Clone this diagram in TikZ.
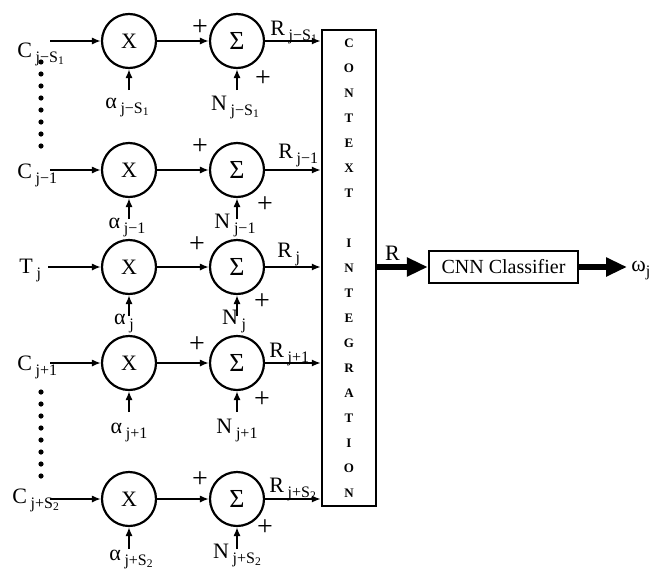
\documentclass[tikz,border=0pt]{standalone}
\usepackage{fontspec}
\setmainfont{Liberation Serif}
\usetikzlibrary{arrows.meta,calc,positioning}
\newcommand\lab[2]{#1\,\raisebox{-0.5ex}{\fontsize{8}{9}\selectfont #2}}
\newcommand\Sone{S\raisebox{-0.35ex}{\fontsize{5.8}{6}\selectfont 1}}
\newcommand\Stwo{S\raisebox{-0.35ex}{\fontsize{5.8}{6}\selectfont 2}}

\begin{document}
\begin{tikzpicture}[x=0.5pt,y=-0.5pt,
every node/.style={font=\fontsize{11}{12}\selectfont,inner sep=1pt},
op/.style={draw,circle,line width=1.1pt,minimum size=27pt,inner sep=0pt},
go/.style={-{Latex[length=4.5pt,width=3.6pt]},line width=0.9pt},
fat/.style={-{Triangle[length=10.5pt,width=9pt]},line width=3pt},
pm/.style={font=\fontsize{14}{14}\selectfont}]
\useasboundingbox (0,0) rectangle (653,568);
% context box and classifier
\node[draw,line width=1.2pt,minimum width=27pt,minimum height=238pt,inner sep=0pt,align=center,
  font=\fontsize{6.5}{12.5}\bfseries\selectfont] (ctx) at (349,268)
  {C\\O\\N\\T\\E\\X\\T\\[12.5pt]I\\N\\T\\E\\G\\R\\A\\T\\I\\O\\N};
\node[draw,line width=1.2pt,minimum width=74.5pt,minimum height=16pt,inner sep=0pt,
  font=\fontsize{10}{12}\selectfont] (cnn) at (503.5,267) {CNN Classifier};
\coordinate (om) at (627,267);
\node[anchor=west,inner sep=0pt] (omega) at (631,271) {ω\raisebox{-0.5ex}{\fontsize{8}{9}\selectfont j}};
% row 1
\node[op] (x1) at (129,41) {X}; \node[op,font=\fontsize{13}{13}\selectfont] (s1) at (237,41) {Σ};
\coordinate (c1) at (50,41); \coordinate (a1) at (129,90); \coordinate (n1) at (237,90);
\node[anchor=base west] (lc1) at (15,57) {\lab{C}{j−\Sone}};
\node[anchor=base] (la1) at (127,108) {\lab{α}{j−\Sone}};
\node[anchor=base] (ln1) at (235,110) {\lab{N}{j−\Sone}};
\node[anchor=base west] (lr1) at (268,35) {\lab{R}{j−\Sone}};
\node[pm] (p1) at (200,28) {+}; \node[pm] (q1) at (263,79) {+};
% row 2
\node[op] (x2) at (129,170) {X}; \node[op,font=\fontsize{13}{13}\selectfont] (s2) at (237,170) {Σ};
\coordinate (c2) at (50,170); \coordinate (a2) at (129,219); \coordinate (n2) at (237,219);
\node[anchor=base west] (lc2) at (15,178) {\lab{C}{j−1}};
\node[anchor=base] (la2) at (127,228) {\lab{α}{j−1}};
\node[anchor=base] (ln2) at (235,228) {\lab{N}{j−1}};
\node[anchor=base west] (lr2) at (276,158) {\lab{R}{j−1}};
\node[pm] (p2) at (200,147) {+}; \node[pm] (q2) at (265,205) {+};
% row 3
\node[op] (x3) at (129,267) {X}; \node[op,font=\fontsize{13}{13}\selectfont] (s3) at (237,267) {Σ};
\coordinate (c3) at (48,267); \coordinate (a3) at (129,316); \coordinate (n3) at (237,316);
\node[anchor=base west] (lc3) at (17,273) {\lab{T}{j}};
\node[anchor=base] (la3) at (124,324) {\lab{α}{j}};
\node[anchor=base] (ln3) at (234,324) {\lab{N}{j}};
\node[anchor=base west] (lr3) at (275,257) {\lab{R}{j}};
\node[pm] (p3) at (197,245) {+}; \node[pm] (q3) at (262,302) {+};
% row 4
\node[op] (x4) at (129,363) {X}; \node[op,font=\fontsize{13}{13}\selectfont] (s4) at (237,363) {Σ};
\coordinate (c4) at (50,363); \coordinate (a4) at (129,412); \coordinate (n4) at (237,412);
\node[anchor=base west] (lc4) at (15,370) {\lab{C}{j+1}};
\node[anchor=base] (la4) at (129,433) {\lab{α}{j+1}};
\node[anchor=base] (ln4) at (237,433) {\lab{N}{j+1}};
\node[anchor=base west] (lr4) at (267,357) {\lab{R}{j+1}};
\node[pm] (p4) at (197,345) {+}; \node[pm] (q4) at (262,400) {+};
% row 5
\node[op] (x5) at (129,499) {X}; \node[op,font=\fontsize{13}{13}\selectfont] (s5) at (237,499) {Σ};
\coordinate (c5) at (50,499); \coordinate (a5) at (129,549); \coordinate (n5) at (237,549);
\node[anchor=base west] (lc5) at (10,503) {\lab{C}{j+\Stwo}};
\node[anchor=base] (la5) at (131,560) {\lab{α}{j+\Stwo}};
\node[anchor=base] (ln5) at (237,558) {\lab{N}{j+\Stwo}};
\node[anchor=base west] (lr5) at (267,492) {\lab{R}{j+\Stwo}};
\node[pm] (p5) at (200,480) {+}; \node[pm] (q5) at (265,528) {+};
% dots
\draw[line width=2.6pt,line cap=round,dash pattern=on 0pt off 6pt] (41,62)--(41,147.5);
\draw[line width=2.6pt,line cap=round,dash pattern=on 0pt off 6pt] (41,392)--(41,476.5);
% connectors
\draw[go] (c1)--(x1); \draw[go] (x1)--(s1); \draw[go] (s1)--(s1-|ctx.west); \draw[go] (a1)--(x1); \draw[go] (n1)--(s1);
\draw[go] (c2)--(x2); \draw[go] (x2)--(s2); \draw[go] (s2)--(s2-|ctx.west); \draw[go] (a2)--(x2); \draw[go] (n2)--(s2);
\draw[go] (c3)--(x3); \draw[go] (x3)--(s3); \draw[go] (s3)--(s3-|ctx.west); \draw[go] (a3)--(x3); \draw[go] (n3)--(s3);
\draw[go] (c4)--(x4); \draw[go] (x4)--(s4); \draw[go] (s4)--(s4-|ctx.west); \draw[go] (a4)--(x4); \draw[go] (n4)--(s4);
\draw[go] (c5)--(x5); \draw[go] (x5)--(s5); \draw[go] (s5)--(s5-|ctx.west); \draw[go] (a5)--(x5); \draw[go] (n5)--(s5);
\draw[fat] (ctx.east|-cnn.west)--node[pos=0.3,above=1pt]{R}(cnn.west);
\draw[fat] (cnn.east)--(om);
\end{tikzpicture}
\end{document}
